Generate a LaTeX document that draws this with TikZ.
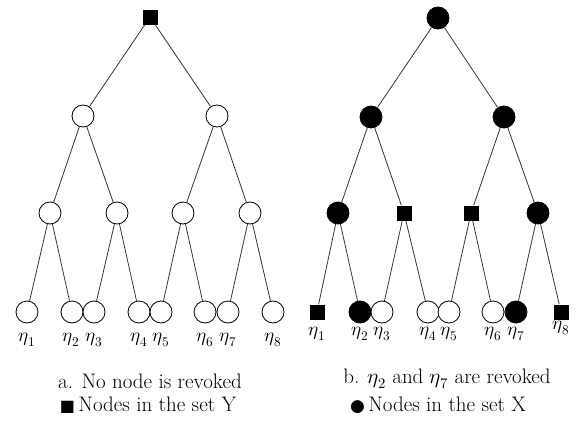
\documentclass[tikz,border=0pt]{standalone}
\usepackage{fontspec}
\usepackage{unicode-math}
\setmathfont{Latin Modern Math}
\newfontfamily\dejavu{DejaVu Sans}
\begin{document}
\begin{tikzpicture}[x=1pt,y=-1pt,
  wc/.style={circle,draw,line width=0.8pt,minimum size=22pt,inner sep=0pt,fill=white},
  bc/.style={circle,fill=black,draw,line width=0.8pt,minimum size=22pt,inner sep=0pt},
  sq/.style={rectangle,fill=black,minimum size=15pt,inner sep=0pt},
  edge/.style={draw=black!80,line width=0.8pt},
  lab/.style={font=\fontsize{19}{20}\selectfont,inner sep=0pt},
  captxt/.style={font=\fontsize{21}{24}\selectfont,inner sep=0pt}]
\useasboundingbox (0,0) rectangle (576,423);
% ---------- left tree ----------
\node[sq] (ar) at (150,17) {};
\node[wc] (a1) at (83,116) {};
\node[wc] (a2) at (217,116) {};
\node[wc] (a11) at (50,213) {};
\node[wc] (a12) at (117,213) {};
\node[wc] (a21) at (183,213) {};
\node[wc] (a22) at (250,213) {};
\node[wc] (al1) at (27,312) {};
\node[wc] (al2) at (72,312) {};
\node[wc] (al3) at (94,312) {};
\node[wc] (al4) at (139,312) {};
\node[wc] (al5) at (161,312) {};
\node[wc] (al6) at (205,312) {};
\node[wc] (al7) at (228,312) {};
\node[wc] (al8) at (273,312) {};
\foreach \p/\c in {ar/a1,ar/a2,a1/a11,a1/a12,a2/a21,a2/a22,a11/al1,a11/al2,a12/al3,a12/al4,a21/al5,a21/al6,a22/al7,a22/al8}
  \draw[edge] (\p) -- (\c);
\foreach \i/\x in {1/27,2/71,3/94,4/139,5/161,6/205,7/228,8/273}
  \node[lab] (ae\i) at (\x,340) {$\eta_{\i}$};
% ---------- right tree ----------
\node[bc] (br) at (438,18) {};
\node[bc] (b1) at (371,117) {};
\node[bc] (b2) at (504,117) {};
\node[bc] (b11) at (338,213) {};
\node[sq] (b12) at (404,213) {};
\node[sq] (b21) at (471,213) {};
\node[bc] (b22) at (538,213) {};
\node[sq] (bl1) at (317,312) {};
\node[bc] (bl2) at (360,312) {};
\node[wc] (bl3) at (382,312) {};
\node[wc] (bl4) at (428,312) {};
\node[wc] (bl5) at (449,312) {};
\node[wc] (bl6) at (493,312) {};
\node[bc] (bl7) at (516,312) {};
\node[sq] (bl8) at (561,312) {};
\foreach \p/\c in {br/b1,br/b2,b1/b11,b1/b12,b2/b21,b2/b22,b11/bl1,b11/bl2,b12/bl3,b12/bl4,b21/bl5,b21/bl6,b22/bl7,b22/bl8}
  \draw[edge] (\p) -- (\c);
\foreach \i/\x/\y in {1/317/334,2/360/334,3/382/334,4/428/334,5/449/334,6/493/334,7/516/334,8/561/328}
  \node[lab] (be\i) at (\x,\y) {$\eta_{\i}$};
% ---------- captions ----------
\node[captxt] (ca) at (150,381) {a. No node is revoked};
\node[captxt] (la) at (148,405) {{\dejavu\fontsize{16}{18}\selectfont ■}\,Nodes in the set Y};
\node[captxt] (cb) at (447,379) {b. $\eta_2$ and $\eta_7$ are revoked};
\node[captxt] (lb) at (438,405) {{\dejavu\fontsize{17}{18}\selectfont ●}\,Nodes in the set X};
\end{tikzpicture}
\end{document}
